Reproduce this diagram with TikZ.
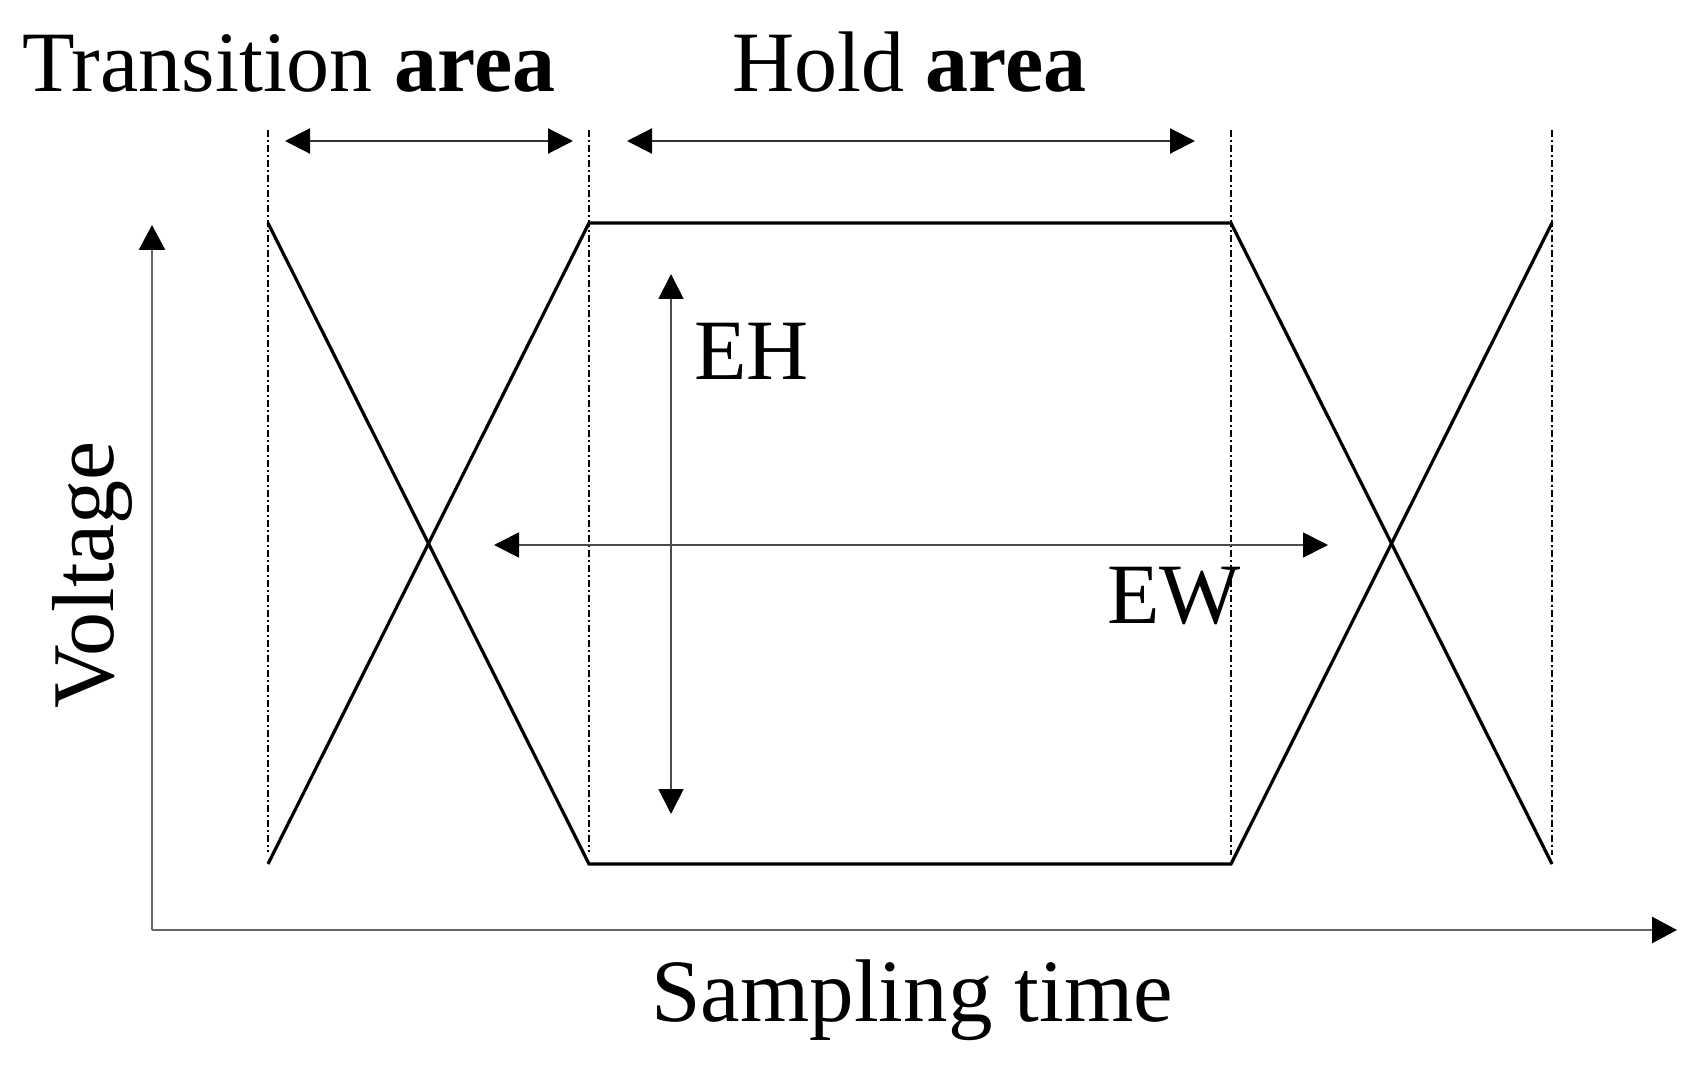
\documentclass[tikz,border=0pt]{standalone}
\usepackage{fontspec}
\setmainfont{Liberation Serif}
\usetikzlibrary{arrows.meta}
\begin{document}
\begin{tikzpicture}[x=0.5pt,y=-0.5pt,
  lbl/.style={inner sep=0pt,font=\fontsize{43}{50}\selectfont},
  wave/.style={line width=1.6pt,black,line join=miter},
  guide/.style={line width=0.6pt,black,dash pattern=on 3.5pt off 1.5pt on 1pt off 1.5pt},
  axis/.style={line width=1.4pt,black!60,-{Triangle[length=12.5pt,width=13pt,color=black]}},
  span/.style={line width=1.1pt,black!80,{Triangle[length=12.5pt,width=12.5pt,color=black]}-{Triangle[length=12.5pt,width=12.5pt,color=black]}},
  meas/.style={line width=0.9pt,black!70,{Triangle[length=12.5pt,width=12.5pt,color=black]}-{Triangle[length=12.5pt,width=12.5pt,color=black]}}]
\useasboundingbox (0,0) rectangle (1694,1069);
% coordinates
\coordinate (o) at (152,930);
\coordinate (ytip) at (152,225);
\coordinate (xtip) at (1677,930);
\coordinate (g1t) at (268,130); \coordinate (g1b) at (268,852);
\coordinate (g2t) at (589,130); \coordinate (g2b) at (589,852);
\coordinate (g3t) at (1231,130); \coordinate (g3b) at (1231,855);
\coordinate (g4t) at (1552,130); \coordinate (g4b) at (1552,855);
\coordinate (a1) at (268,223); \coordinate (a2) at (268,864);
\coordinate (b1) at (589,223); \coordinate (b2) at (589,864);
\coordinate (c1) at (1231,223); \coordinate (c2) at (1231,864);
\coordinate (d1) at (1552,223); \coordinate (d2) at (1552,864);
\coordinate (t1) at (285,141); \coordinate (t2) at (573,141);
\coordinate (h1) at (627,141); \coordinate (h2) at (1195,141);
\coordinate (eh1) at (671,274); \coordinate (eh2) at (671,814);
\coordinate (ew1) at (494,545); \coordinate (ew2) at (1328,545);
% guides
\draw[guide] (g1t) -- (g1b);
\draw[guide] (g2t) -- (g2b);
\draw[guide] (g3t) -- (g3b);
\draw[guide] (g4t) -- (g4b);
% axes
\draw[axis] (o) -- (ytip);
\draw[axis] (o) -- (xtip);
% waveform
\draw[wave] (a1) -- (b2) -- (c2) -- (d1);
\draw[wave] (a2) -- (b1) -- (c1) -- (d2);
% span arrows
\draw[span] (t1) -- (t2);
\draw[span] (h1) -- (h2);
% measurement arrows
\draw[meas] (eh1) -- (eh2);
\draw[meas] (ew1) -- (ew2);
% labels
\node[lbl,anchor=base west] (ttrans) at (22,92) {Transition \textbf{area}};
\node[lbl,anchor=base west] (thold) at (732,92) {Hold \textbf{area}};
\node[lbl,anchor=base west] (teh) at (694,380) {EH};
\node[lbl,anchor=base west] (tew) at (1107,624) {EW};
\node[lbl,anchor=base west,font=\fontsize{44.5}{52}\selectfont] (tx) at (651,1021) {Sampling time};
\node[lbl,anchor=base,rotate=90,font=\fontsize{44}{52}\selectfont] (ty) at (113,575) {Voltage};
\end{tikzpicture}
\end{document}
